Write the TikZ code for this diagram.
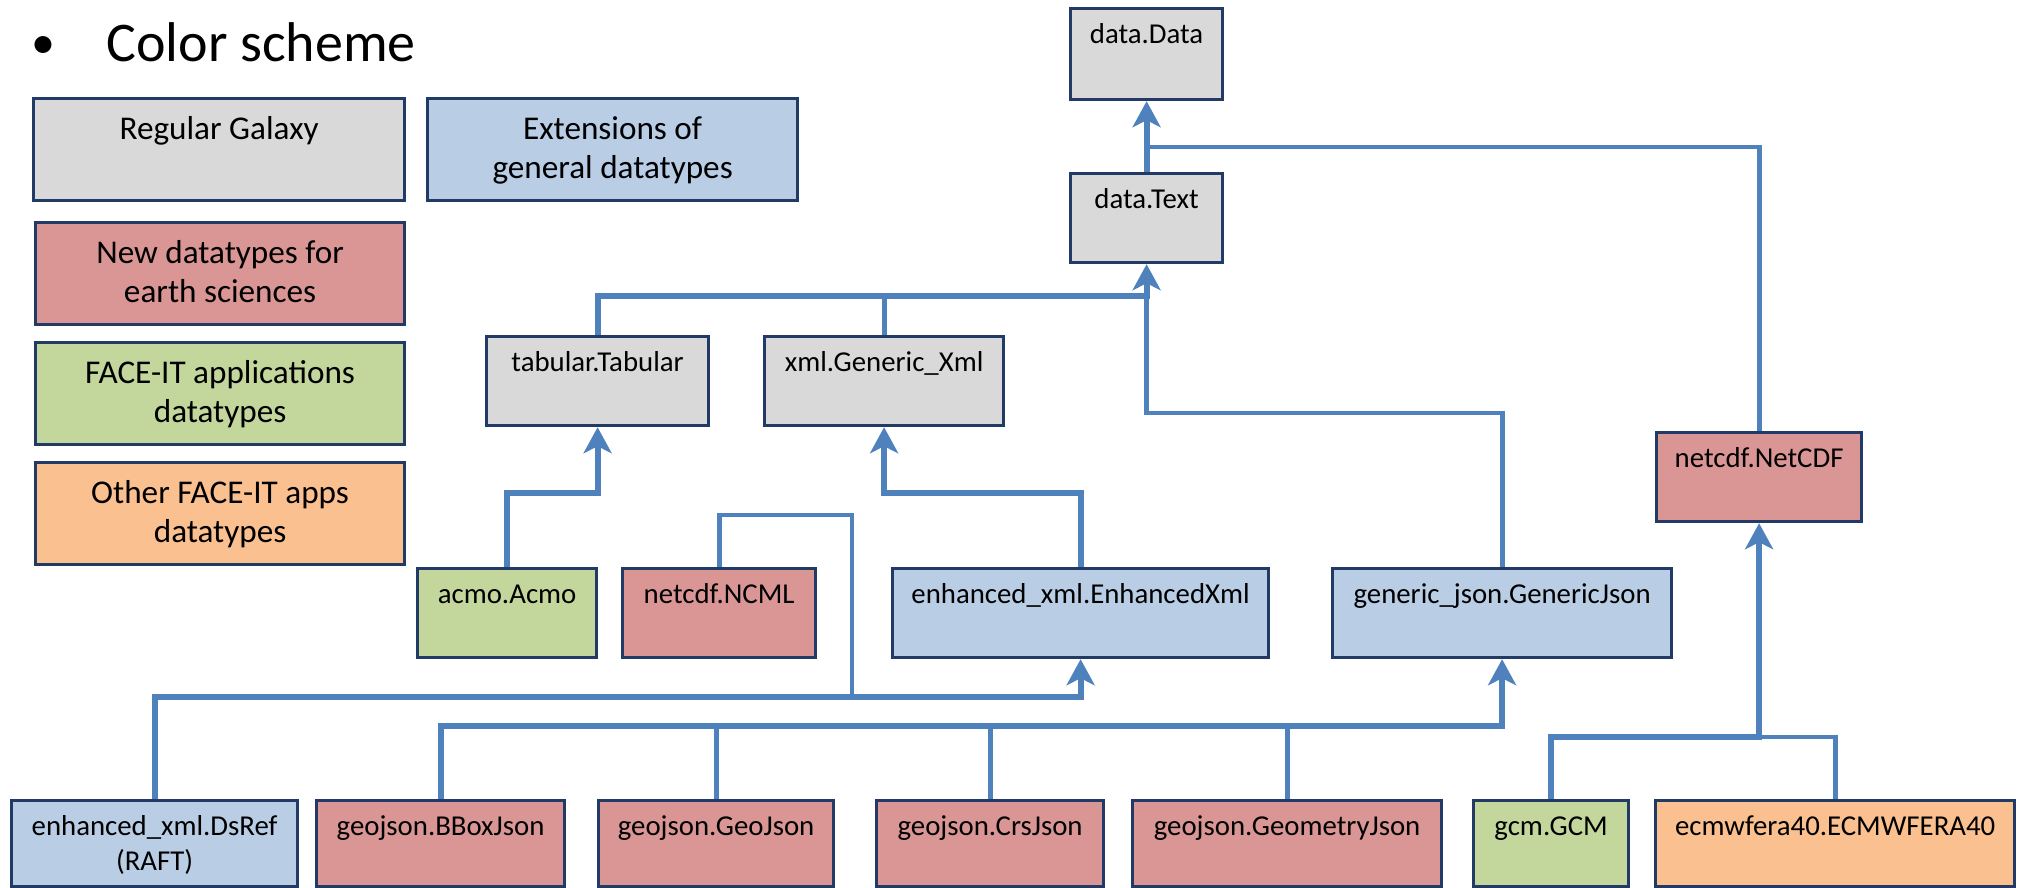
\documentclass[tikz,border=0pt]{standalone}
\usepackage{fontspec}
\setmainfont{Carlito}
\usetikzlibrary{arrows.meta}

\definecolor{linkblue}{RGB}{79,129,189}
\definecolor{boxedge}{RGB}{33,58,102}
\definecolor{galaxygray}{RGB}{217,217,217}
\definecolor{extblue}{RGB}{185,205,229}
\definecolor{earthred}{RGB}{217,150,148}
\definecolor{faceitgreen}{RGB}{195,214,155}
\definecolor{otherorange}{RGB}{250,192,144}

\newcommand{\stacktxt}[1]{\begin{tabular}[t]{@{}c@{}}#1\end{tabular}}

\begin{document}
\begin{tikzpicture}[x=0.5pt, y=-0.5pt,
dtype/.style={draw=boxedge, line width=1.6pt, fill=#1, anchor=north west, inner sep=0pt,
  font=\fontsize{14.4}{17.5}\selectfont, text height=17.5pt, text depth=27pt},
lowrow/.style={text depth=25.5pt},
keybox/.style={draw=boxedge, line width=1.6pt, fill=#1, anchor=north west, inner sep=0pt,
  font=\fontsize{16.6}{19.5}\selectfont, text height=20.5pt, text depth=30.5pt},
joint/.style={draw=linkblue, line width=2.4pt},
inherits/.style={joint, line width=3pt, -{Stealth[length=13pt,width=14pt,inset=3.5pt]}},
]
\useasboundingbox (0,0) rectangle (2024,888);

% heading
\node[anchor=base, inner sep=0pt, font=\fontsize{24}{28}\selectfont] (bullet) at (43,59) {\textbullet};
\node[anchor=base west, inner sep=0pt, font=\fontsize{28}{34}\selectfont] (title) at (106,62) {Color scheme};

% colour key
\node[keybox=galaxygray, minimum width=185.5pt] (kgalaxy) at (32,97) {Regular Galaxy};
\node[keybox=extblue, minimum width=185pt] (kext) at (426,97) {\stacktxt{Extensions of\\general datatypes}};
\node[keybox=earthred, minimum width=184.5pt] (knew) at (34,221) {\stacktxt{New datatypes for\\earth sciences}};
\node[keybox=faceitgreen, minimum width=184.5pt] (kapps) at (34,341) {\stacktxt{FACE-IT applications\\datatypes}};
\node[keybox=otherorange, minimum width=184.5pt] (kother) at (34,461) {\stacktxt{Other FACE-IT apps\\datatypes}};

% galaxy datatypes
\node[dtype=galaxygray, minimum width=76pt, text depth=28pt] (ddata) at (1069,7) {data.Data};
\node[dtype=galaxygray, minimum width=76pt] (dtext) at (1069,172) {data.Text};
\node[dtype=galaxygray, minimum width=111pt] (tabular) at (485,335) {tabular.Tabular};
\node[dtype=galaxygray, minimum width=119.5pt] (genxml) at (763,335) {xml.Generic\_Xml};

% second level
\node[dtype=earthred, minimum width=102.5pt] (netcdf) at (1655,431) {netcdf.NetCDF};
\node[dtype=faceitgreen, minimum width=89.5pt] (acmo) at (416,567) {acmo.Acmo};
\node[dtype=earthred, minimum width=96.5pt] (ncml) at (621,567) {netcdf.NCML};
\node[dtype=extblue, minimum width=188pt] (enhxml) at (891,567) {enhanced\_xml.EnhancedXml};
\node[dtype=extblue, minimum width=169.5pt] (genjson) at (1331,567) {generic\_json.GenericJson};

% bottom row
\node[dtype=extblue, lowrow, minimum width=143pt] (dsref) at (10,799) {\stacktxt{enhanced\_xml.DsRef\\(RAFT)}};
\node[dtype=earthred, lowrow, minimum width=124pt] (bbox) at (315,799) {geojson.BBoxJson};
\node[dtype=earthred, lowrow, minimum width=117.5pt] (geojson) at (597,799) {geojson.GeoJson};
\node[dtype=earthred, lowrow, minimum width=113.5pt] (crsjson) at (875,799) {geojson.CrsJson};
\node[dtype=earthred, lowrow, minimum width=154.5pt] (geometry) at (1131,799) {geojson.GeometryJson};
\node[dtype=faceitgreen, lowrow, minimum width=77.5pt] (gcm) at (1472,799) {gcm.GCM};
\node[dtype=otherorange, lowrow, minimum width=179.5pt] (ecmwf) at (1654,799) {ecmwfera40.ECMWFERA40};

% levels of the elbow lines
\coordinate (yjoin) at (0,147);
\coordinate (ytext) at (0,296);
\coordinate (yjson) at (0,413);
\coordinate (yxml) at (0,493);
\coordinate (yenh) at (0,697);
\coordinate (ygeo) at (0,726);
\coordinate (ynet) at (0,737);
\coordinate (ncmlturn) at (852,515);

% plain branches
\draw[joint] (netcdf.north) |- (dtext.north |- yjoin);
\draw[joint] (genxml.north) -- (genxml.north |- ytext);
\draw[joint] (genjson.north) |- (dtext.south |- yjson) -- (dtext.south |- ytext);
\draw[joint] (ncml.north) |- (ncmlturn) -- (ncmlturn |- yenh);
\foreach \n in {geojson,crsjson,geometry}
  \draw[joint] (\n.north) -- (\n.north |- ygeo);
\draw[joint] (ecmwf.north) |- (netcdf.south |- ynet);

% arrows to the parent type
\draw[inherits] (dtext.north) -- (ddata.south);
\draw[inherits] (tabular.north) |- (dtext.south |- ytext) -- (dtext.south);
\draw[inherits] (acmo.north) |- (tabular.south |- yxml) -- (tabular.south);
\draw[inherits] (enhxml.north) |- (genxml.south |- yxml) -- (genxml.south);
\draw[inherits] (dsref.north) |- (enhxml.south |- yenh) -- (enhxml.south);
\draw[inherits] (bbox.north) |- (genjson.south |- ygeo) -- (genjson.south);
\draw[inherits] (gcm.north) |- (netcdf.south |- ynet) -- (netcdf.south);
\end{tikzpicture}
\end{document}
